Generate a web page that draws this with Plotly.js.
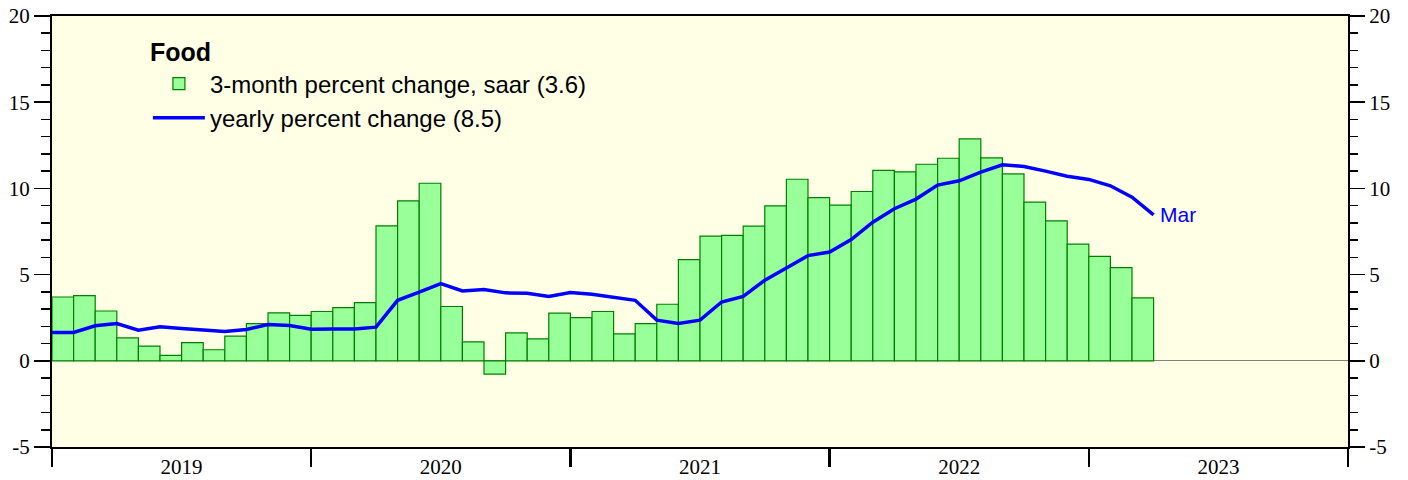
<!DOCTYPE html>
<html>
<head>
<meta charset="utf-8">
<script src="https://cdn.plot.ly/plotly-3.0.1.min.js"></script>
<style>html,body{margin:0;padding:0;background:#fff;}#chart{width:1408px;height:480px;}</style>
</head>
<body>
<div id="chart"></div>
<script>
// Months of the bar series (Jan 2019 .. Mar 2023)
const barMonths = [
  "2019-01","2019-02","2019-03","2019-04","2019-05","2019-06","2019-07","2019-08","2019-09","2019-10","2019-11","2019-12",
  "2020-01","2020-02","2020-03","2020-04","2020-05","2020-06","2020-07","2020-08","2020-09","2020-10","2020-11","2020-12",
  "2021-01","2021-02","2021-03","2021-04","2021-05","2021-06","2021-07","2021-08","2021-09","2021-10","2021-11","2021-12",
  "2022-01","2022-02","2022-03","2022-04","2022-05","2022-06","2022-07","2022-08","2022-09","2022-10","2022-11","2022-12",
  "2023-01","2023-02","2023-03"
];
// 3-month percent change, saar
const threeMonth = [
  3.70,3.78,2.89,1.33,0.85,0.31,1.06,0.64,1.43,2.16,2.78,2.64,
  2.86,3.09,3.38,7.83,9.28,10.30,3.15,1.10,-0.77,1.62,1.27,2.76,
  2.51,2.86,1.56,2.16,3.28,5.87,7.23,7.27,7.81,8.99,10.53,9.47,
  9.03,9.82,11.05,10.96,11.40,11.75,12.87,11.77,10.84,9.20,8.12,6.77,
  6.06,5.40,3.65
];
// Yearly percent change (Dec 2018 .. Mar 2023), plotted at month end
const lineMonths = ["2018-12"].concat(barMonths);
const yearly = [
  1.64,
  1.64,2.03,2.16,1.78,1.97,1.87,1.76,1.70,1.82,2.10,2.05,1.83,
  1.85,1.85,1.95,3.51,3.98,4.48,4.05,4.13,3.94,3.92,3.73,3.96,
  3.86,3.69,3.51,2.36,2.16,2.36,3.41,3.74,4.67,5.38,6.10,6.31,
  7.03,8.04,8.82,9.38,10.19,10.44,10.94,11.37,11.27,11.00,10.71,10.52,
  10.15,9.49,8.47
];
const years = ["2019","2020","2021","2022","2023"];
const yTicks = [-5,0,5,10,15,20];
const yTickText = ["-5","0","5","10","15","20"];
const lastLabel = "Mar";
const chartTitle = "Food";
const barName = "3-month percent change, saar (3.6)";
const lineName = "yearly percent change (8.5)";

// month index relative to Jan 2019
function mIdx(s){ const [y,m] = s.split("-").map(Number); return (y-2019)*12 + (m-1); }
const barX = barMonths.map(s => mIdx(s) + 0.5);   // mid-month
const lineX = lineMonths.map(s => mIdx(s) + 1);   // end of month
const yearStarts = years.map(y => (Number(y)-2019)*12).concat([years.length*12]);
const yearCenters = years.map(y => (Number(y)-2019)*12 + 6);

const serif = "Liberation Serif, Times New Roman, serif";
const sans = "Liberation Sans, Arial, sans-serif";

const traces = [
  {
    type: "bar", x: barX, y: threeMonth, width: 1, name: barName,
    marker: {color: "#99ff99", line: {color: "#008000", width: 1.2}},
    legendgroup: "a", hoverinfo: "skip"
  },
  {
    type: "scatter", mode: "lines", x: lineX, y: yearly, name: lineName,
    yaxis: "y2", line: {color: "#0000ff", width: 3.5},
    legendgroup: "b", hoverinfo: "skip"
  }
];

const layout = {
  width: 1408, height: 480,
  margin: {l: 52, r: 60, t: 16, b: 33},
  paper_bgcolor: "#ffffff",
  plot_bgcolor: "#ffffe6",
  showlegend: true,
  bargap: 0,
  legend: {
    x: 0.074, y: 0.97, xanchor: "left", yanchor: "top",
    bgcolor: "rgba(0,0,0,0)",
    font: {family: sans, size: 24, color: "#000"},
    title: {text: "<b>" + chartTitle + "</b>", font: {family: sans, size: 25, color: "#000"}},
    traceorder: "grouped", tracegroupgap: 0, itemwidth: 52
  },
  xaxis: {
    range: [0, years.length*12], showgrid: false, zeroline: false,
    showline: true, linecolor: "#000", linewidth: 2, mirror: true,
    tickmode: "array", tickvals: yearCenters, ticktext: years, ticks: "",
    tickfont: {family: serif, size: 21, color: "#000"},
    minor: {tickmode: "array", tickvals: yearStarts, ticks: "outside", ticklen: 18, tickwidth: 2.5, tickcolor: "#000", showgrid: false},
    fixedrange: true
  },
  yaxis: {
    range: [-5, 20], showgrid: false,
    zeroline: true, zerolinecolor: "#808080", zerolinewidth: 1,
    showline: true, linecolor: "#000", linewidth: 2,
    tickmode: "array", tickvals: yTicks, ticktext: yTickText, ticks: "outside", ticklen: 16, tickwidth: 1.5, tickcolor: "#000",
    minor: {dtick: 1, ticks: "outside", ticklen: 9, tickwidth: 1.5, tickcolor: "#000"},
    tickfont: {family: serif, size: 21, color: "#000"},
    fixedrange: true
  },
  yaxis2: {
    overlaying: "y", side: "right", range: [-5, 20], showgrid: false, zeroline: false,
    showline: true, linecolor: "#000", linewidth: 2,
    tickmode: "array", tickvals: yTicks, ticktext: yTickText, ticks: "outside", ticklen: 15, tickwidth: 1.5, tickcolor: "#000",
    minor: {dtick: 1, ticks: "outside", ticklen: 8, tickwidth: 1.5, tickcolor: "#000"},
    tickfont: {family: serif, size: 21, color: "#000"},
    fixedrange: true
  },
  annotations: [{
    x: lineX[lineX.length-1], y: yearly[yearly.length-1], xref: "x", yref: "y2",
    text: lastLabel, showarrow: false, xanchor: "left", yanchor: "middle", xshift: 4,
    font: {family: sans, size: 21, color: "#0000ff"}
  }]
};

Plotly.newPlot("chart", traces, layout, {staticPlot: true, displayModeBar: false});
</script>
</body>
</html>
